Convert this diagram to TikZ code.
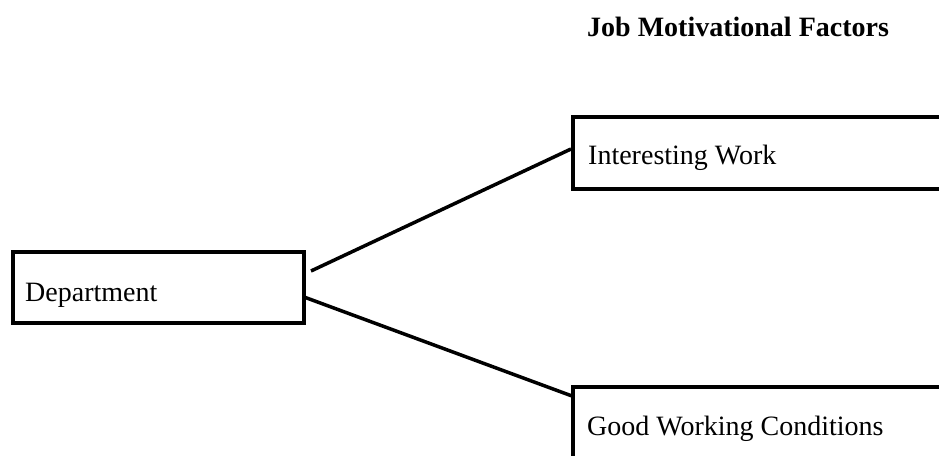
\documentclass[tikz,border=0pt]{standalone}
\usepackage{fontspec}
\setmainfont{Liberation Serif}
\begin{document}
\begin{tikzpicture}[x=1pt,y=1pt,
  box/.style={draw, line width=4pt, rectangle, inner sep=0pt, outer sep=0pt, anchor=north west},
  lbl/.style={anchor=base west, inner sep=0pt, font=\fontsize{28}{34}\selectfont},
  link/.style={line width=3.5pt}]
\useasboundingbox (0,0) rectangle (939,455);
\clip (0,0) rectangle (939,455);
% boxes
\node[box, minimum width=290.7pt, minimum height=71.6pt] (dept) at (13.3,203.3) {};
\node[box, minimum width=400pt, minimum height=72pt] (iw) at (573,338) {};
\node[box, minimum width=400pt, minimum height=100pt] (gwc) at (573,68) {};
% texts
\node[lbl, font=\fontsize{28}{34}\selectfont\bfseries] (title) at (587,418) {Job Motivational Factors};
\node[lbl] (depttext) at (25,153) {Department};
\node[lbl] (iwtext) at (588,290) {Interesting Work};
\node[lbl] (gwctext) at (587,20) {Good Working Conditions};
% connectors
\draw[link] ([xshift=7pt,yshift=16.5pt]dept.east) -- ([xshift=-2pt,yshift=4pt]iw.west);
\draw[link] ([yshift=-9.5pt]dept.east) -- ([xshift=-1pt,yshift=-9pt]gwc.north west);
\end{tikzpicture}
\end{document}
